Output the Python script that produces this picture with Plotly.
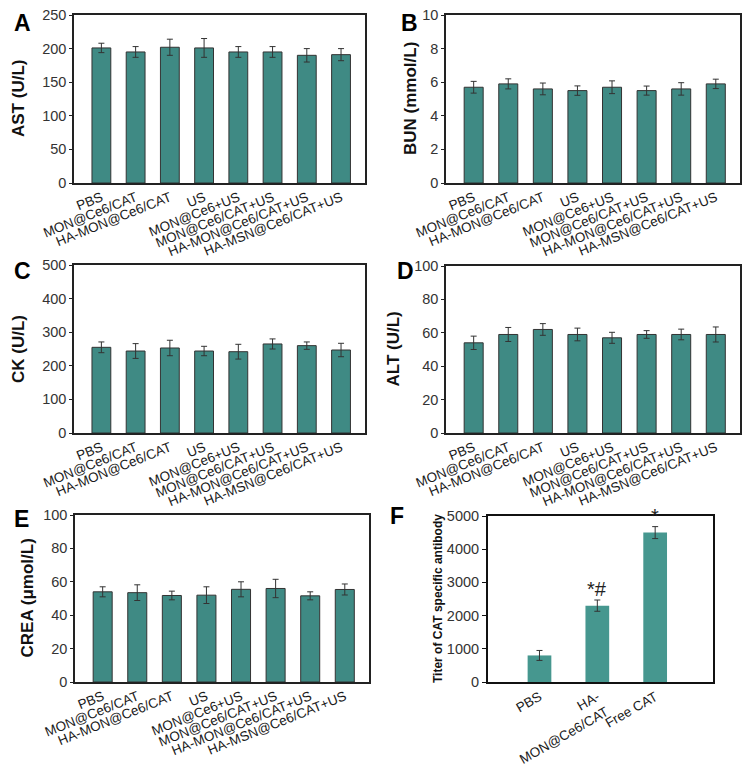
import plotly.graph_objects as go

# Group names (panels A-E)
groups = ["PBS", "MON@Ce6/CAT", "HA-MON@Ce6/CAT", "US", "MON@Ce6+US",
          "MON@Ce6/CAT+US", "HA-MON@Ce6/CAT+US", "HA-MSN@Ce6/CAT+US"]

ast = [201, 195, 202, 201, 195, 195, 190, 191]
ast_err = [7, 8, 12, 14, 8, 8, 10, 9]

bun = [5.7, 5.9, 5.6, 5.5, 5.7, 5.5, 5.6, 5.9]
bun_err = [0.35, 0.3, 0.35, 0.28, 0.38, 0.27, 0.37, 0.28]

ck = [255, 244, 253, 244, 242, 265, 260, 247]
ck_err = [16, 22, 23, 14, 22, 15, 11, 20]

alt = [54, 59, 62, 59, 57, 59, 59, 59]
alt_err = [4, 4.2, 3.5, 3.8, 3.3, 2.3, 3.2, 4.5]

crea = [54, 53.5, 51.8, 52, 55.5, 56, 51.6, 55.4]
crea_err = [3, 4.7, 2.6, 5, 4.5, 5.5, 2.4, 3.3]

# Panel F
f_groups = ["PBS", "HA-<br>MON@Ce6/CAT", "Free CAT"]
titer = [800, 2300, 4500]
titer_err = [150, 170, 180]
titer_marks = ["", "*#", "*"]

BAR = "#3f8a84"
FONT = "Liberation Sans, Arial, sans-serif"

# the page puts the plot div 8px in from the window corner
W, H, OFF = 742, 759, 8


def px(x):
    return (x - OFF) / W


def py(y):
    return 1 - (y - OFF) / H


# (letter, values, errors, y title, y max, dtick, x px span, y px span, title x px, letter x px, letter top px)
panels = [
    ("A", ast, ast_err, "AST (U/L)", 250, 50, (74, 365), (15, 183), 18, 12, 8),
    ("B", bun, bun_err, "BUN (mmol/L)", 10, 2, (446, 740), (15, 183), 410, 399, 8),
    ("C", ck, ck_err, "CK (U/L)", 500, 100, (74, 365), (265, 433), 18, 12, 256),
    ("D", alt, alt_err, "ALT (U/L)", 100, 20, (446, 740), (266, 433), 393, 395, 256),
    ("E", crea, crea_err, "CREA (μmol/L)", 100, 20, (75, 369), (515, 682), 27, 12, 504),
]

fig = go.Figure()
annotations = []

for i, (letter, vals, errs, ytitle, ymax, dt, xs, ys, tx, lx, ly) in enumerate(panels):
    n = "" if i == 0 else str(i + 1)
    fig.add_trace(go.Bar(
        x=list(range(len(groups))), y=vals,
        error_y=dict(type="data", array=errs, color="#333333", thickness=1, width=3),
        marker=dict(color=BAR, line=dict(color="#333333", width=1)),
        width=0.55, xaxis="x" + n, yaxis="y" + n, showlegend=False,
    ))
    fig.update_layout(**{
        "xaxis" + n: dict(
            domain=[px(xs[0]), px(xs[1])], anchor="y" + n, range=[-0.8, 7.7], automargin=False,
            tickmode="array", tickvals=list(range(len(groups))), ticktext=groups,
            tickangle=-22, ticks="", showline=True, linecolor="#222", linewidth=1.5,
            mirror=True, showgrid=False, zeroline=False,
            tickfont=dict(family=FONT, size=13.5, color="#1a1a1a"),
        ),
        "yaxis" + n: dict(
            domain=[py(ys[1]), py(ys[0])], anchor="x" + n, range=[0, ymax], dtick=dt,
            automargin=False, ticklabeloverflow="allow",
            ticks="outside", ticklen=3, tickcolor="#222",
            showline=True, linecolor="#222", linewidth=1.5, mirror=True,
            showgrid=False, zeroline=False,
            tickfont=dict(family=FONT, size=14.5, color="#333"),
        ),
    })
    annotations.append(dict(
        text=f"<b>{ytitle}</b>", xref="paper", yref="paper",
        x=px(tx), y=py((ys[0] + ys[1]) / 2), xanchor="center", yanchor="middle",
        textangle=-90, showarrow=False,
        font=dict(family=FONT, size=17, color="#111"),
    ))
    annotations.append(dict(
        text=f"<b>{letter}</b>", xref="paper", yref="paper",
        x=px(lx), y=py(ly), xanchor="left", yanchor="top", showarrow=False,
        font=dict(family=FONT, size=23, color="#000"),
    ))

# Panel F
fig.add_trace(go.Bar(
    x=list(range(len(f_groups))), y=titer,
    error_y=dict(type="data", array=titer_err, color="#333333", thickness=1, width=3),
    marker=dict(color="#46978f", line=dict(width=0)),
    width=0.41, xaxis="x6", yaxis="y6", showlegend=False,
))
fig.update_layout(
    xaxis6=dict(
        domain=[px(488), px(713)], anchor="y6", range=[-0.89, 3.0], automargin=False,
        tickmode="array", tickvals=list(range(len(f_groups))), ticktext=f_groups,
        tickangle=-30, ticks="", showline=True, linecolor="#111", linewidth=2,
        mirror=True, showgrid=False, zeroline=False,
        tickfont=dict(family=FONT, size=13.5, color="#1a1a1a"),
    ),
    yaxis6=dict(
        domain=[py(682), py(516)], anchor="x6", range=[0, 5000], dtick=1000, automargin=False,
        ticklabeloverflow="allow", ticks="outside", ticklen=4, tickcolor="#111",
        showline=True, linecolor="#111", linewidth=2, mirror=True,
        showgrid=False, zeroline=False,
        tickfont=dict(family=FONT, size=14.5, color="#333"),
    ),
)
for k, m in enumerate(titer_marks):
    if m:
        annotations.append(dict(
            text=m, x=k, y=titer[k] + titer_err[k], xref="x6", yref="y6",
            xanchor="center", yanchor="bottom", yshift=-2, showarrow=False,
            font=dict(family=FONT, size=20, color="#222"),
        ))
annotations.append(dict(
    text="<b>Titer of CAT specific antibody</b>", xref="paper", yref="paper",
    x=px(438), y=py(599), xanchor="center", yanchor="middle", textangle=-90, showarrow=False,
    font=dict(family=FONT, size=12, color="#111"),
))
annotations.append(dict(
    text="<b>F</b>", xref="paper", yref="paper",
    x=px(388), y=py(501), xanchor="left", yanchor="top", showarrow=False,
    font=dict(family=FONT, size=23, color="#000"),
))

fig.update_layout(
    width=W, height=H, margin=dict(l=0, r=0, t=0, b=0),
    paper_bgcolor="white", plot_bgcolor="white",
    annotations=annotations,
)

fig.write_html("out.html")
